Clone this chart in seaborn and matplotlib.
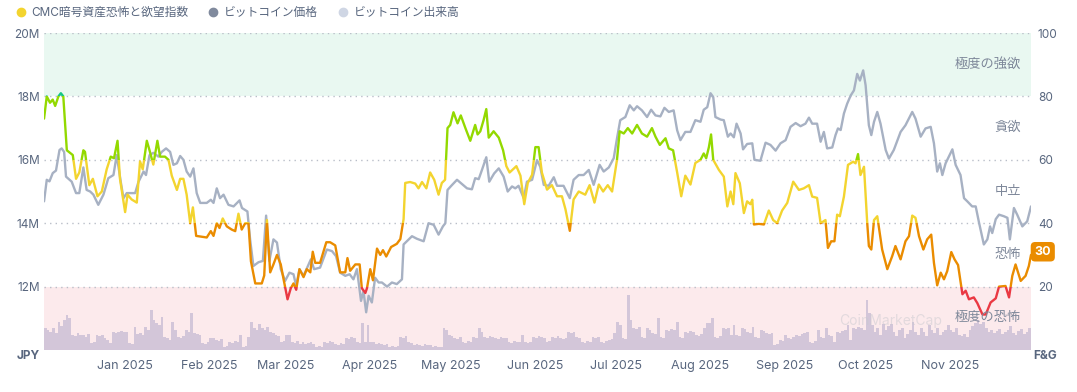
import matplotlib
matplotlib.use("Agg")
import numpy as np
import pandas as pd
import matplotlib.pyplot as plt
import matplotlib.transforms as mtransforms
from matplotlib.patches import Rectangle
from matplotlib.lines import Line2D
import seaborn as sns

# -----------------------------
# data
# -----------------------------
start = pd.Timestamp("2024-12-11")

# Fear & Greed index: day offset from start, value
fg_day = [0, 1, 2.2, 3.2, 4.1, 5.3, 6.2, 7.1, 8.4, 10.6, 11.8, 13, 14.5, 15.1, 16.7, 18,
          19.7, 21.3, 23.1, 24.6, 25.8, 27.1, 28, 29.9, 30.8, 32.3, 34.2, 35.4, 36.4, 37.9,
          38.9, 40.3, 41.8, 42.8, 44.6, 45.9, 47.1, 49, 50.2, 51.4, 52.6, 53.9, 54.9, 56.1,
          60, 61.5, 62.5, 63.7, 64.7, 65.9, 67.4, 69.2, 70.5, 71.7, 72.9, 74.2, 75.4, 76.3,
          77.9, 80.3, 81.2, 82.2, 83.4, 84.6, 85.9, 87.3, 88.3, 89.8, 91, 92, 93, 94.2, 95.7,
          96.9, 98.2, 99.1, 100, 101.8, 104.1, 105.5, 107.4, 109.2, 111.1, 111.9, 112.9,
          114.8, 116.4, 117.2, 118.5, 119.1, 120.3, 121.3, 122.8, 124,
          125, 126.2, 128, 130.1, 131.4, 132.6, 133.2, 135, 136.9, 138.1, 139.4, 141, 142.4,
          143.9, 145.5, 146.7, 147.9, 148.8, 149.8, 151, 152.5, 153.7, 155.4, 157.2, 159,
          159.9, 160.9, 162.1, 163.1, 164, 165.8, 167.7, 169.3, 170.5, 171.7, 174.2, 175.7,
          177.1, 178.4, 180, 181.2, 182.4, 183.6, 185.5, 187.3, 189.2, 191, 192.3, 193.9,
          195.3, 197.2, 199.6, 201.2, 203, 204.6, 206.2, 207.9, 209.5, 211.3, 212.3, 213.8,
          215.3, 216.9, 218.7, 220.5, 222.4, 224.2, 225.5, 227.1, 229.2, 230.4, 232, 233.5,
          235, 236.5, 238.4, 240.2, 242.1,
          243.3, 244.2, 245.2, 246, 246.8, 248.9, 250.7, 252, 253.2, 254.2, 255, 256.6, 258.1,
          259.3, 260.5, 261.2, 261.8, 263.6, 265.5, 267.3, 268.9, 270.4, 272.2, 274.1, 276.3,
          278.4, 280.2, 282.1, 283.3, 285.1, 286.4, 288.2, 289.1, 290.3, 291.5, 292.5, 293.5,
          295, 296.5, 298.4, 299.3, 300.2, 301.1, 302.4, 303.6, 304.2, 305.1, 306.1, 307.3,
          309.1, 311, 312.8, 314, 315.9, 317.7, 319, 320.2, 321.4, 322.7, 324.3, 325.7, 327.2,
          328.2, 329.4, 330.7, 331.9, 333.1, 334.6, 335.8, 337.1, 338.7, 339.9, 341.1, 342.9,
          344.2, 346.1, 347.3, 349.1, 351, 352.2, 354.6, 355.9, 357.1, 358.3, 360.2, 362,
          363.2, 364]
fg_value = [73, 80, 78, 79, 77, 80, 81, 80, 63, 61.5, 54, 56, 63, 62.5, 52, 54,
            48.5, 50, 57, 61, 60.5, 66, 54, 43.5, 49, 47.5, 46.5, 59.5, 57, 66,
            63, 58.5, 66, 61, 61, 60, 55, 50.5, 54, 54, 49, 40, 45, 36,
            35.5, 37.5, 36, 40, 38.5, 41.5, 39, 38, 37.5, 43, 38, 40, 40, 28,
            21, 21, 23.5, 41, 24.5, 27, 30, 27, 22.5, 16, 19.5, 21, 19, 25.5, 23,
            25.5, 24.5, 31, 27.5, 27.5, 34, 34, 33, 24.5, 24.5, 29, 25,
            27, 27, 19.5, 18, 19.5, 25.5, 22, 32, 30,
            31.5, 29.5, 32.5, 33.5, 35, 41.3, 52.7, 53, 52.5, 51, 53, 51, 56,
            53.7, 49, 52.7, 53.7, 70, 71, 75, 71.5, 74, 70, 66, 71,
            68, 69, 72.5, 76, 67, 69, 67, 63, 58, 56, 58, 55,
            46, 52.7, 55.3, 64, 64, 56, 50.6, 52, 48.5, 48.5, 44.4, 37.6,
            47.5, 50, 49, 52, 46.5, 52.2, 50, 52, 50, 60, 69, 68.3,
            70, 68.3, 71, 68.3, 67.3, 70, 67.3, 64.7, 66.8, 63.6, 63, 56,
            48.5, 55, 52.2, 59, 60,
            62, 60.5, 64, 68, 60, 56.8, 54.7, 45.3, 50, 46, 55.8, 52.6, 43.2,
            46.9, 46, 47.4, 39.6, 39.8, 39.6, 44, 41, 40, 44, 46.4, 53.1,
            50.5, 51, 52, 48.4, 48, 40, 41, 32.2, 34.3, 34.3, 42.7, 42.2,
            48.4, 58.4, 59.4, 58.9, 61.8, 55.2, 57.8, 40, 32.8, 31.7, 41, 42.2,
            31.7, 25.5, 29.6, 32.8, 28.6, 34.3, 35.9, 42.4, 41.7, 35.9, 31.7, 34.9, 36.4,
            27.5, 20.4, 24.4, 22.3, 24.9, 30.9, 28.6, 26.8, 17.6, 18.7, 16, 16.6,
            14.8, 11.2, 11.2, 15, 16.3, 20, 20.2, 16.6, 23.4, 27, 21.8, 23.4,
            26.5, 30]

# Bitcoin price in million JPY: day offset from start, value
price_day = [0, 1, 2, 3.2, 4.4, 5.7, 6.5, 7.4, 8.1, 10.2, 11.8, 13, 14.5, 15.7, 17, 18.2,
             20, 21.9, 23.7, 25.6, 26.8, 28.3, 29.3, 30.5, 33.6, 34.8, 36.7, 37.6, 38.9,
             40.3, 42.2, 43.4, 45, 46.5, 47.7, 49, 50.2, 51.4, 52.6, 53.9, 55.1, 56.3, 57.6,
             60, 61.5, 62.5, 63.7, 64.9, 66.2, 68, 69.9, 72.1, 73, 75, 76, 77.2, 79.1, 80.7,
             81.9, 83.1, 84.6, 85.9, 87.3, 88.9, 90.5, 92, 93, 94.2, 95.7, 96.9, 98.4, 99.6,
             101.8, 104.3, 106.2, 107.7, 109.2, 111.1, 112.7, 114.1, 115.4, 116.9, 117.8,
             118.8, 119.7, 120.9, 122.1, 123.4, 124.6, 126.5, 128.3, 130.1, 132, 132.6, 133.8,
             135.7, 137.5, 140, 141.8, 143.7, 145.5, 147.1, 148, 148.8, 150.4, 152.3, 154.1,
             156, 157.8, 159, 160.3, 161.5, 163.1, 164.2, 166, 167.7, 169.5, 171, 172.6,
             173.8, 175, 176.9, 178.1, 180, 181.8, 183, 184.3, 186.1, 188, 189.2, 191.6,
             193.9, 195.3, 197.2, 199, 200.9, 202.7, 204.9, 206.4, 208.3, 210.1, 211.3, 212.5,
             214.4, 216, 217.5, 218.7, 220.5, 222.4, 223.9, 225.5, 227.3, 228.8, 230.4, 232.2,
             233.5, 234.7, 236.5, 238.4, 240.2, 242.1, 243.3, 244.6, 245.8, 246.8, 247.6,
             249.5, 250.7, 252.2, 253.2, 254.4, 255.4, 256.9, 257.8, 259.3, 261.2, 262, 264.2,
             266.1, 267.9, 269.8, 271.6, 273.5, 275.3, 277.2, 279, 280.8, 282.1, 283.3, 285.1,
             286.4, 287.6, 288.8, 290.7, 291.9, 292.8, 293.8, 295, 296.2, 297.5, 298.7, 299.9,
             300.9, 302.1, 303, 304.2, 305.1, 306.1, 307.3, 308.5, 310.4, 311.6, 313.4, 315.9,
             317.7, 320.2, 321.4, 323.3, 325.1, 327, 328.2, 329.4, 330.4, 331.3, 332.5, 333.7,
             335, 336.2, 338, 339.3, 340.5, 342.3, 343.6, 344.8, 346.6, 347.9, 348.9, 349.7,
             351, 352.2, 354, 355.3, 356.2, 357.7, 358.9, 360.8, 362.6, 364]
price_m = [14.69, 15.37, 15.32, 15.58, 15.66, 16.31, 16.36, 16.25, 15.47, 15.31, 14.95, 14.95,
           15.76, 15.05, 15.0, 14.9, 14.58, 14.9, 15.42, 15.52, 16.15, 15.3, 14.79, 14.95,
           14.95, 15.3, 15.63, 15.52, 16.15, 16.22, 16.1, 16.25, 16.36, 16.25, 15.84, 15.89,
           16.12, 16.0, 15.63, 15.47, 15.73, 14.95, 14.64, 14.64, 14.74, 14.64, 15.1, 14.79,
           14.9, 14.58, 14.53, 14.72, 14.48, 14.37, 13.49, 12.65, 12.77, 12.81, 14.24, 12.81,
           13.49, 13.39, 12.55, 12.18, 12.44, 12.39, 12.02, 12.55, 12.34, 12.57, 12.86, 12.55,
           12.6, 13.17, 13.12, 12.96, 12.44, 12.34, 12.39, 12.23, 12.55, 11.55, 11.86, 11.19,
           11.71, 11.5, 12.28, 12.13, 12.13, 12.0, 12.13, 12.08, 12.23, 13.33, 13.43, 13.59,
           13.51, 13.43, 14.0, 13.95, 13.64, 13.9, 14.0, 15.05, 15.2, 15.37, 15.24, 15.1,
           15.07, 15.42, 15.39, 15.68, 16.08, 15.31, 15.57, 15.73, 15.47, 15.0, 15.16, 15.1,
           15.18, 14.79, 15.31, 15.37, 15.99, 15.78, 15.21, 15.18, 15.45, 15.18, 15.18, 14.79,
           15.37, 15.52, 15.52, 15.68, 15.21, 15.84, 15.63, 15.76, 16.05, 16.67, 17.25, 17.35,
           17.72, 17.56, 17.69, 17.56, 17.35, 17.58, 17.4, 17.37, 17.64, 17.51, 17.56, 16.93,
           16.62, 16.88, 16.88, 17.25, 17.2, 17.58, 17.66, 18.1, 17.98, 17.35, 17.27, 17.25,
           16.73, 16.83, 16.71, 17.14, 16.83, 16.33, 16.5, 16.52, 16.0, 15.97, 16.54, 16.47,
           16.29, 16.52, 16.62, 17.04, 17.16, 17.06, 17.14, 17.33, 17.14, 17.14, 16.57, 16.88,
           16.36, 16.39, 16.78, 16.99, 16.94, 17.46, 17.77, 18.03, 18.19, 18.71, 18.5, 18.82,
           18.35, 17.09, 16.78, 17.2, 17.51, 17.14, 16.31, 16.04, 16.31, 16.88, 17.09, 17.51,
           17.3, 16.73, 16.99, 17.04, 16.52, 15.63, 15.89, 15.52, 15.89, 16.1, 16.33, 15.84,
           15.52, 14.79, 14.69, 14.53, 14.53, 14.03, 13.33, 13.49, 13.9, 13.69, 14.13, 14.27,
           14.22, 14.17, 13.49, 14.48, 14.27, 13.9, 14.06, 14.53]

# daily trading volume (relative units, one value per day from start)
volume = [22, 20, 18, 22, 17, 28, 24, 30, 35, 32, 15, 14, 17, 15, 15, 13, 16, 7, 8, 15,
          14, 15, 12, 10, 7, 18, 17, 18, 19, 18, 18,
          7, 6, 23, 16, 17, 15, 23, 20, 40, 30, 27, 25, 33, 13, 12, 10, 28, 20, 13, 12,
          14, 20, 18, 37, 17, 16, 15, 7, 6, 8, 12,
          12, 10, 9, 11, 3, 4, 8, 7, 9, 8, 15, 3, 4, 13, 28, 22, 20, 26, 22, 20,
          23, 18, 17, 15, 14, 8, 9, 15,
          15, 8, 7, 9, 6, 8, 6, 7, 8, 6, 3, 4, 3, 8, 7, 9, 8, 6, 5, 7,
          6, 12, 11, 13, 12, 8, 7, 27, 8, 25, 8,
          8, 6, 7, 6, 5, 6, 3, 4, 3, 4, 13, 12, 14, 8, 7, 5, 6, 5, 4, 6,
          5, 5, 3, 4, 3, 3, 22, 20, 15, 14,
          12, 11, 13, 8, 7, 9, 8, 13, 12, 22, 18, 13, 12, 14, 13, 12, 11, 13, 12, 12,
          8, 7, 9, 8, 8, 15, 8, 7, 8, 13, 12,
          14, 13, 12, 8, 9, 13, 12, 14, 12, 11, 12, 18, 17, 18, 13, 12, 8, 7, 9, 8,
          13, 12, 13, 8, 7, 9, 10, 11, 17, 28,
          25, 12, 11, 55, 30, 22, 21, 23, 13, 12, 22, 20, 17, 16, 32, 13, 12, 20, 19, 21,
          20, 28, 13, 12, 18, 17, 19, 18, 15, 14, 16,
          22, 27, 27, 32, 13, 12, 14, 22, 21, 22, 15, 25, 15, 14, 22, 21, 18, 17, 23, 13,
          12, 20, 19, 17, 16, 17, 5, 6, 10, 9, 15,
          12, 11, 13, 15, 14, 16, 17, 18, 8, 7, 9, 20, 13, 12, 22, 15, 14, 8, 18, 17,
          19, 20, 25, 10, 22, 21, 23, 22, 20, 50,
          37, 25, 18, 22, 15, 26, 20, 24, 26, 18, 14, 20, 22, 12, 16, 20, 28, 18, 15, 22,
          18, 14, 25, 20, 17, 22, 15, 18, 20, 25,
          20, 18, 22, 15, 14, 16, 13, 20, 24, 27, 30, 26, 28, 22, 18, 20, 17, 19, 21, 16,
          18, 20, 24, 17, 15, 19, 21, 16, 18, 22, 24]

band_lo = [0, 20, 40, 60, 80]
band_hi = [20, 40, 60, 80, 100]
band_colors = ["#ea3943", "#ea8c00", "#f3d42f", "#93d900", "#16c784"]
zone_labels = ["極度の恐怖", "恐怖", "中立", "貪欲", "極度の強欲"]

price_ticks = [12, 14, 16, 18, 20]
fg_ticks = [20, 40, 60, 80, 100]
month_ticks = ["2025-01-10", "2025-02-10", "2025-03-10", "2025-04-10", "2025-05-10",
               "2025-06-10", "2025-07-10", "2025-08-10", "2025-09-10", "2025-10-10",
               "2025-11-10"]
month_labels = ["Jan 2025", "Feb 2025", "Mar 2025", "Apr 2025", "May 2025", "Jun 2025",
                "Jul 2025", "Aug 2025", "Sep 2025", "Oct 2025", "Nov 2025"]
latest_fg = 30

# -----------------------------
# frames
# -----------------------------
fg_df = pd.DataFrame({"date": start + pd.to_timedelta(fg_day, unit="D"), "fg": fg_value})
price_df = pd.DataFrame({"date": start + pd.to_timedelta(price_day, unit="D"), "price": price_m})
vol_dates = start + pd.to_timedelta(np.arange(len(volume)), unit="D")

# -----------------------------
# style
# -----------------------------
sns.set_theme(style="white")
plt.rcParams["font.family"] = ["Inter", "Noto Sans CJK JP", "DejaVu Sans"]

txt = "#58667e"
grid_c = "#b9bec8"

fig = plt.figure(figsize=(10.77, 3.92), dpi=100)
ax = fig.add_axes([0.0409, 0.1071, 0.9164, 0.8087])
ax_vol = ax.twinx()
ax_fg = ax.twinx()

xmin = start
xmax = start + pd.Timedelta(days=364)

# zone backgrounds + dotted grid
ax.axhspan(18, 20, color="#e9f8f1", lw=0, zorder=0)
ax.axhspan(10, 12, color="#fceaec", lw=0, zorder=0)
for v in [10, 12, 14, 16, 18, 20]:
    ax.axhline(v, color=grid_c, lw=1.0, ls=(0, (1, 3)), zorder=1)

# volume bars
ax_vol.bar(vol_dates, volume, width=1.0, color="#d3c6d9", lw=0, align="edge")
ax_vol.set_ylim(0, 317)
ax_vol.axis("off")

# price line
sns.lineplot(data=price_df, x="date", y="price", ax=ax, color="#a7b1c3",
             lw=1.7, zorder=3)
ax.set_ylim(10, 20)
ax.set_xlim(xmin, xmax)

# fear & greed line, coloured by zone
blend = mtransforms.blended_transform_factory(ax_fg.transAxes, ax_fg.transData)
for lo, hi, c in zip(band_lo, band_hi, band_colors):
    sns.lineplot(data=fg_df, x="date", y="fg", ax=ax_fg, color=c, lw=1.7)
    line = ax_fg.lines[-1]
    top = hi if hi < 100 else 120
    bot = lo if lo > 0 else -20
    clip = Rectangle((0, bot), 1, top - bot, transform=blend)
    line.set_clip_path(clip)
ax_fg.set_ylim(0, 100)
ax_fg.set_xlim(xmin, xmax)

# zone labels
for lo, hi, lab in zip(band_lo, band_hi, zone_labels):
    ax_fg.text(0.99, (lo + hi) / 2, lab, transform=blend, ha="right", va="center",
               fontsize=9.5, color="#7d8799")

# faint watermark, kept clear of the zone label
ax_fg.text(0.91, 9, "CoinMarketCap", transform=blend, ha="right", va="center",
           fontsize=10, color="#c9c9cf", alpha=0.5, zorder=0)

# axes cosmetics
for a in (ax, ax_fg):
    for s in a.spines.values():
        s.set_visible(False)
    a.set_xlabel("")
    a.set_ylabel("")

ax.set_yticks(price_ticks)
ax.set_yticklabels([f"{v}M" for v in price_ticks])
ax.tick_params(axis="y", length=0, pad=3, labelsize=8.5, labelcolor=txt)
ax_fg.set_yticks(fg_ticks)
ax_fg.set_yticklabels([str(v) for v in fg_ticks])
ax_fg.tick_params(axis="y", length=0, pad=5, labelsize=8.5, labelcolor=txt)

ax.set_xticks(pd.to_datetime(month_ticks))
ax.set_xticklabels(month_labels)
ax.tick_params(axis="x", length=0, pad=7, labelsize=9, labelcolor=txt)
ax_fg.tick_params(axis="x", length=0, labelbottom=False)

ax.text(-0.0045, -0.018, "JPY", transform=ax.transAxes, ha="right", va="center",
        fontsize=8.5, color=txt, fontweight="bold")
ax_fg.text(1.002, -0.018, "F&G", transform=ax_fg.transAxes, ha="left", va="center",
           fontsize=8.5, color=txt, fontweight="bold")

# latest value badge
ax_fg.text(1.0035, latest_fg + 1, str(latest_fg), transform=blend, ha="left", va="center",
           fontsize=9, color="white", fontweight="bold",
           bbox=dict(boxstyle="round,pad=0.3,rounding_size=0.35", fc="#ea8c00", ec="none"))

# legend
handles = [
    Line2D([], [], ls="none", marker="o", ms=6, color="#f3d42f"),
    Line2D([], [], ls="none", marker="o", ms=6, color="#808a9d"),
    Line2D([], [], ls="none", marker="o", ms=6, color="#cfd6e4"),
]
labels = ["CMC暗号資産恐怖と欲望指数", "ビットコイン価格", "ビットコイン出来高"]
fig.legend(handles, labels, loc="upper left", bbox_to_anchor=(0.004, 1.01), ncol=3,
           frameon=False, fontsize=8.5, labelcolor=txt, handletextpad=0.4,
           columnspacing=1.6, handlelength=1.0)

fig.savefig("out.png", dpi=100)
